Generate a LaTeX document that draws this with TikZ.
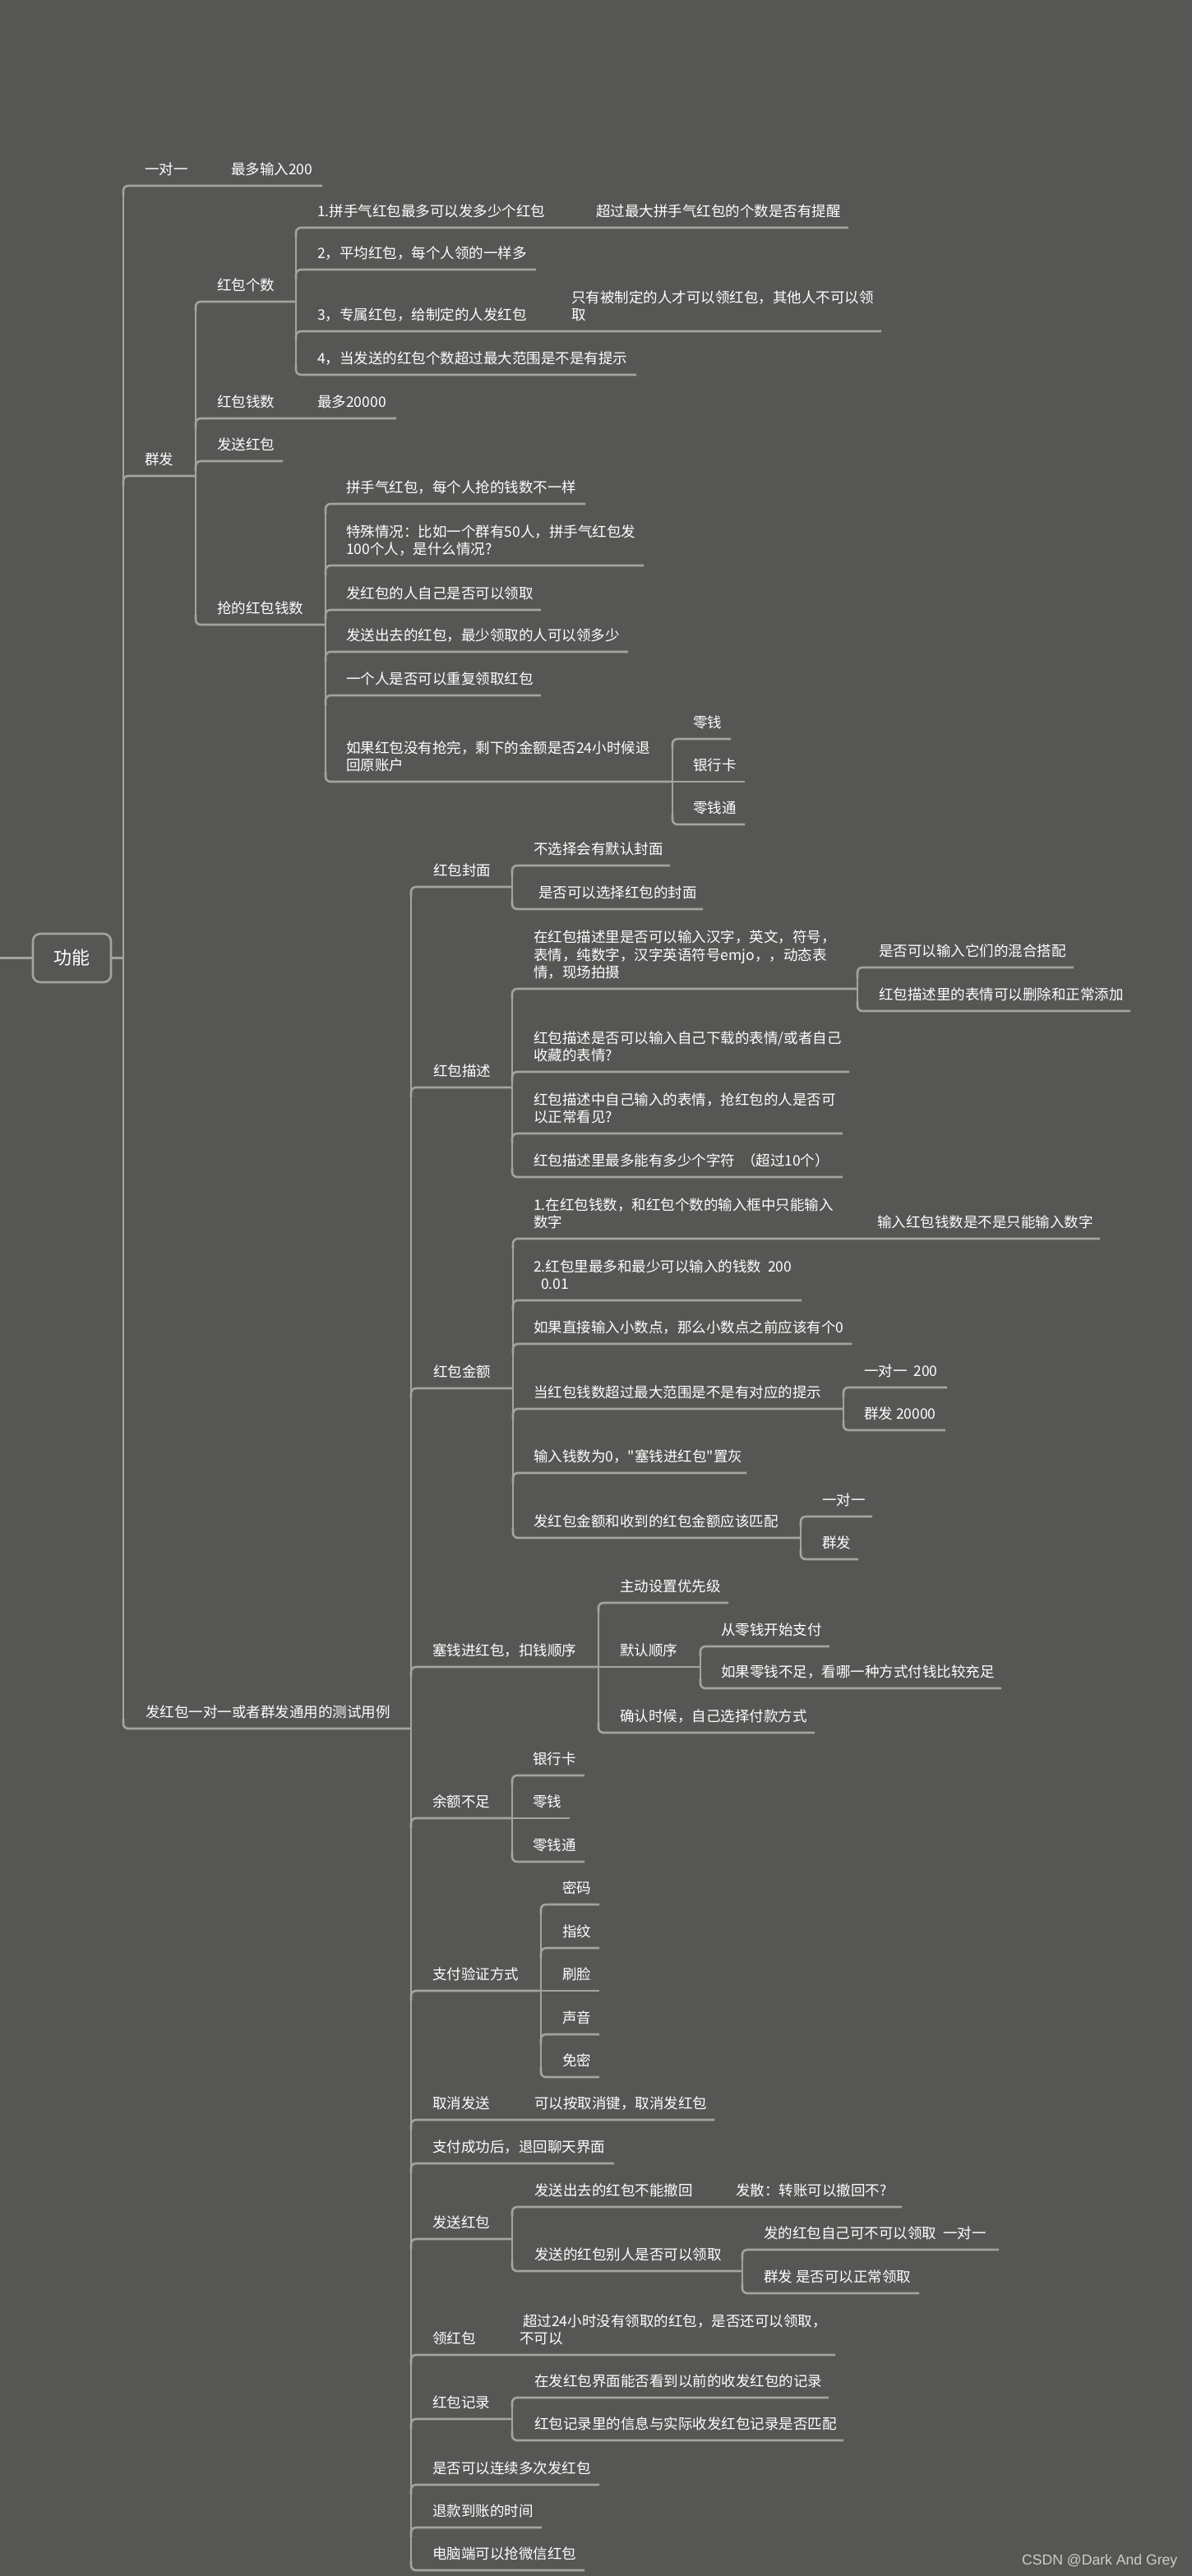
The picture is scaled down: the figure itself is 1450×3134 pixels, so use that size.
\documentclass[tikz,border=0pt]{standalone}
\usepackage{fontspec}
\newfontfamily\cjk{Noto Sans CJK SC}
\newfontfamily\wmfont{Liberation Sans}
\definecolor{bgc}{RGB}{86,87,84}
\definecolor{lnc}{RGB}{163,163,160}
\definecolor{wmc}{RGB}{205,205,203}
\newcounter{nd}
\tikzset{
  txt/.style={font=\cjk\fontsize{17.5}{21.5}\selectfont, text=white, anchor=base west, inner sep=0pt},
  ln/.style={draw=lnc, line width=2.6pt},
  rootbox/.style={draw=lnc, line width=2.6pt, rounded corners=9pt, minimum width=95pt, minimum height=59pt,
    font=\cjk\fontsize{22}{26}\selectfont, text=white, inner sep=0pt}
}
% text line: x, underline y, text
\newcommand\tx[3]{\stepcounter{nd}\node[txt] (n\arabic{nd}) at (#1,#2-13.5) {#3};}
\newcommand\txx[4]{\stepcounter{nd}\node[txt] (n\arabic{nd}a) at (#1,#2-35) {#3};\node[txt] (n\arabic{nd}b) at (#1,#2-13.5) {#4};}
\newcommand\txxx[5]{\stepcounter{nd}\node[txt] (n\arabic{nd}a) at (#1,#2-57) {#3};\node[txt] (n\arabic{nd}b) at (#1,#2-35) {#4};\node[txt] (n\arabic{nd}c) at (#1,#2-13.5) {#5};}
% branches: trunk x, y, end x
\newcommand\bd[3]{\draw[ln,rounded corners=6pt] (#1,#2+12) -- (#1,#2) -- (#3,#2);}
\newcommand\bu[3]{\draw[ln,rounded corners=6pt] (#1,#2-12) -- (#1,#2) -- (#3,#2);}
\newcommand\bs[3]{\draw[ln] (#1,#2) -- (#3,#2);}
\newcommand\vt[3]{\draw[ln] (#1,#2+6) -- (#1,#3-6);}
\begin{document}
\begin{tikzpicture}[x=1pt,y=-1pt]
\fill[bgc] (0,0) rectangle (1450,3134);
\useasboundingbox (0,0) rectangle (1450,3134);

% root
\node[rootbox] (root) at (87.5,1165.5) {功能};
\coordinate (rootin) at (0,1165.5);
\coordinate (rootout) at (150,1165.5);
\draw[ln] (rootin) -- (root.west);
\draw[ln] (root.east) -- (rootout);

% level 1 trunk
\vt{150}{226}{2103}
\bd{150}{226}{392} \tx{176}{226}{一对一} \tx{281}{226}{最多输入200}
\bd{150}{579}{238} \tx{176}{579}{群发}
\bu{150}{2103}{500} \tx{177}{2103}{发红包一对一或者群发通用的测试用例}

% 群发
\vt{238}{367}{760}
\bd{238}{367}{360} \tx{264}{367}{红包个数}
\bd{238}{509}{482} \tx{264}{509}{红包钱数} \tx{386}{509}{最多20000}
\bd{238}{561}{344} \tx{264}{561}{发送红包}
\bu{238}{760}{396} \tx{264}{760}{抢的红包钱数}

% 红包个数
\vt{360}{277}{456}
\bd{360}{277}{1032} \tx{386}{277}{1.拼手气红包最多可以发多少个红包} \tx{725}{277}{超过最大拼手气红包的个数是否有提醒}
\bd{360}{328}{652} \tx{386}{328}{2，平均红包，每个人领的一样多}
\bd{360}{403}{1072} \tx{386}{403}{3，专属红包，给制定的人发红包} \txx{695}{403}{只有被制定的人才可以领红包，其他人不可以领}{取}
\bu{360}{456}{774} \tx{386}{456}{4，当发送的红包个数超过最大范围是不是有提示}

% 抢的红包钱数
\vt{396}{613}{951}
\bd{396}{613}{712} \tx{421}{613}{拼手气红包，每个人抢的钱数不一样}
\bd{396}{688}{783} \txx{421}{688}{特殊情况：比如一个群有50人，拼手气红包发}{100个人，是什么情况?}
\bd{396}{742}{658} \tx{421}{742}{发红包的人自己是否可以领取}
\bd{396}{793}{764} \tx{421}{793}{发送出去的红包，最少领取的人可以领多少}
\bd{396}{846}{658} \tx{421}{846}{一个人是否可以重复领取红包}
\bu{396}{951}{818} \txx{421}{951}{如果红包没有抢完，剩下的金额是否24小时候退}{回原账户}

\vt{818}{899}{1003}
\bd{818}{899}{889} \tx{843}{899}{零钱}
\bs{818}{951}{906} \tx{843}{951}{银行卡}
\bu{818}{1003}{906} \tx{843}{1003}{零钱通}

% 通用测试用例
\vt{500}{1079}{3127}
\bd{500}{1079}{623} \tx{527}{1079}{红包封面}
\bd{500}{1323}{623} \tx{527}{1323}{红包描述}
\bd{500}{1689}{624} \tx{527}{1689}{红包金额}
\bd{500}{2028}{728} \tx{526}{2028}{塞钱进红包，扣钱顺序}
\bd{500}{2212}{623} \tx{526}{2212}{余额不足}
\bd{500}{2422}{658} \tx{526}{2422}{支付验证方式}
\bd{500}{2579}{869} \tx{526}{2579}{取消发送} \tx{650}{2579}{可以按取消键，取消发红包}
\bd{500}{2632}{747} \tx{526}{2632}{支付成功后，退回聊天界面}
\bd{500}{2724}{623} \tx{526}{2724}{发送红包}
\bd{500}{2865}{1016} \tx{526}{2865}{领红包} \tx{636}{2843.5}{超过24小时没有领取的红包，是否还可以领取，} \tx{632}{2865}{不可以}
\bd{500}{2943}{623} \tx{526}{2943}{红包记录}
\bd{500}{3023}{729} \tx{526}{3023}{是否可以连续多次发红包}
\bd{500}{3075}{659} \tx{526}{3075}{退款到账的时间}
\bu{500}{3127}{711} \tx{526}{3127}{电脑端可以抢微信红包}

% 红包封面
\vt{623}{1053}{1106}
\bd{623}{1053}{815} \tx{649}{1053}{不选择会有默认封面}
\bu{623}{1106}{855} \tx{655}{1106}{是否可以选择红包的封面}

% 红包描述
\vt{623}{1203}{1432}
\bd{623}{1203}{1043} \txxx{649}{1203}{在红包描述里是否可以输入汉字，英文，符号，}{表情，纯数字，汉字英语符号emjo，，动态表}{情，现场拍摄}
\bd{623}{1304}{1033} \txx{649}{1304}{红包描述是否可以输入自己下载的表情/或者自己}{收藏的表情?}
\bd{623}{1379}{1025} \txx{649}{1379}{红包描述中自己输入的表情，抢红包的人是否可}{以正常看见?}
\bu{623}{1432}{1025} \tx{649}{1432}{红包描述里最多能有多少个字符\ \ （超过10个）}

\vt{1043}{1177}{1230}
\bd{1043}{1177}{1306} \tx{1069}{1177}{是否可以输入它们的混合搭配}
\bu{1043}{1230}{1375} \tx{1069}{1230}{红包描述里的表情可以删除和正常添加}

% 红包金额
\vt{624}{1507}{1871}
\bd{624}{1507}{1338} \txx{649}{1507}{1.在红包钱数，和红包个数的输入框中只能输入}{数字} \tx{1067}{1507}{输入红包钱数是不是只能输入数字}
\bd{624}{1582}{975} \tx{649}{1560.5}{2.红包里最多和最少可以输入的钱数\ \ 200} \tx{658}{1582}{0.01}
\bd{624}{1635}{1036} \tx{649}{1635}{如果直接输入小数点，那么小数点之前应该有个0}
\bd{624}{1714}{1026} \tx{649}{1714}{当红包钱数超过最大范围是不是有对应的提示}
\bd{624}{1792}{908} \tx{649}{1792}{输入钱数为0，"塞钱进红包"置灰}
\bu{624}{1871}{974} \tx{649}{1871}{发红包金额和收到的红包金额应该匹配}

\vt{1026}{1688}{1740}
\bd{1026}{1688}{1152} \tx{1051}{1688}{一对一\ \ 200}
\bu{1026}{1740}{1150} \tx{1051}{1740}{群发 20000}

\vt{974}{1845}{1897}
\bd{974}{1845}{1061} \tx{1000}{1845}{一对一}
\bu{974}{1897}{1044} \tx{1000}{1897}{群发}

% 塞钱进红包
\vt{728}{1950}{2108}
\bd{728}{1950}{886} \tx{754}{1950}{主动设置优先级}
\bs{728}{2028}{852} \tx{754}{2028}{默认顺序}
\bu{728}{2108}{991} \tx{754}{2108}{确认时候，自己选择付款方式}

\vt{852}{2003}{2054}
\bd{852}{2003}{1009} \tx{877}{2003}{从零钱开始支付}
\bu{852}{2054}{1218} \tx{877}{2054}{如果零钱不足，看哪一种方式付钱比较充足}

% 余额不足
\vt{623}{2160}{2265}
\bd{623}{2160}{711} \tx{648}{2160}{银行卡}
\bs{623}{2212}{693} \tx{648}{2212}{零钱}
\bu{623}{2265}{711} \tx{648}{2265}{零钱通}

% 支付验证方式
\vt{658}{2317}{2527}
\bd{658}{2317}{729} \tx{684}{2317}{密码}
\bd{658}{2370}{729} \tx{684}{2370}{指纹}
\bs{658}{2422}{729} \tx{684}{2422}{刷脸}
\bd{658}{2475}{729} \tx{684}{2475}{声音}
\bu{658}{2527}{729} \tx{684}{2527}{免密}

% 发送红包
\vt{623}{2685}{2763}
\bd{623}{2685}{1097} \tx{650}{2685}{发送出去的红包不能撤回} \tx{895}{2685}{发散：转账可以撤回不?}
\bu{623}{2763}{903} \tx{650}{2763}{发送的红包别人是否可以领取}

\vt{903}{2737}{2790}
\bd{903}{2737}{1215} \tx{929}{2737}{发的红包自己可不可以领取\ \ 一对一}
\bu{903}{2790}{1118} \tx{929}{2790}{群发 是否可以正常领取}

% 红包记录
\vt{623}{2917}{2969}
\bd{623}{2917}{1008} \tx{650}{2917}{在发红包界面能否看到以前的收发红包的记录}
\bu{623}{2969}{1026} \tx{650}{2969}{红包记录里的信息与实际收发红包记录是否匹配}

% watermark
\node[font=\wmfont\fontsize{17.6}{20}\selectfont, text=wmc, anchor=base west, inner sep=0pt] (wm) at (1243,3120) {CSDN @Dark And Grey};
\end{tikzpicture}
\end{document}
